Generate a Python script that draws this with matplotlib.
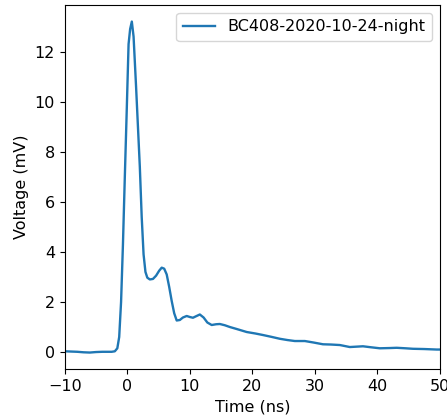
import numpy as np
import matplotlib
matplotlib.use('Agg')
import matplotlib.pyplot as plt

# Waveform (time in ns, voltage in mV)
time_ns = [-10, -9, -8, -7, -6, -5, -4, -3, -2.5, -2.0, -1.6, -1.3, -1.0, -0.7, -0.4,
           -0.1, 0.2, 0.45, 0.72, 1.0, 1.4, 1.7, 2.0, 2.3, 2.6, 2.9, 3.2, 3.6, 4.1,
           4.6, 5.1, 5.5, 5.9, 6.3, 6.7, 7.1, 7.5, 7.9, 8.4, 8.9, 9.5, 10.0, 10.5,
           11.0, 11.6, 12.2, 12.8, 13.5, 14.2, 14.8, 15.6, 16.4, 17.5, 19.1, 20.5,
           21.7, 23.0, 24.4, 25.6, 26.8, 28.4, 29.8, 31.3, 32.6, 34.0, 35.6, 37.7,
           39.0, 40.4, 42.0, 43.1, 44.5, 45.7, 47.5, 49.5, 51.0]
voltage_mv = [0.03, 0.02, 0.01, -0.01, -0.02, 0.0, 0.01, 0.01, 0.01, 0.03, 0.15, 0.6, 2.0, 4.3, 7.0,
              9.6, 12.3, 12.9, 13.2, 12.6, 10.6, 9.0, 7.4, 5.4, 3.9, 3.2, 2.97, 2.9, 2.92,
              3.05, 3.25, 3.37, 3.33, 3.1, 2.6, 2.04, 1.55, 1.26, 1.28, 1.38, 1.44, 1.4, 1.37,
              1.43, 1.5, 1.38, 1.18, 1.08, 1.11, 1.12, 1.07, 1.0, 0.92, 0.8, 0.74,
              0.68, 0.61, 0.53, 0.48, 0.44, 0.44, 0.38, 0.31, 0.3, 0.28, 0.2, 0.23,
              0.19, 0.15, 0.16, 0.17, 0.15, 0.13, 0.12, 0.1, 0.1]
label = 'BC408-2020-10-24-night'

plt.rcParams['font.size'] = 11.5

fig = plt.figure(figsize=(4.47, 4.18), dpi=100)
ax = fig.add_axes([0.145, 0.117, 0.839, 0.871])
ax.plot(time_ns, voltage_mv, color='tab:blue', linewidth=1.7, label=label)
ax.set_xlim(-10, 50)
ax.set_xlabel('Time (ns)')
ax.set_ylabel('Voltage (mV)')
ax.legend(loc='upper right')

fig.savefig('out.png', dpi=100)
